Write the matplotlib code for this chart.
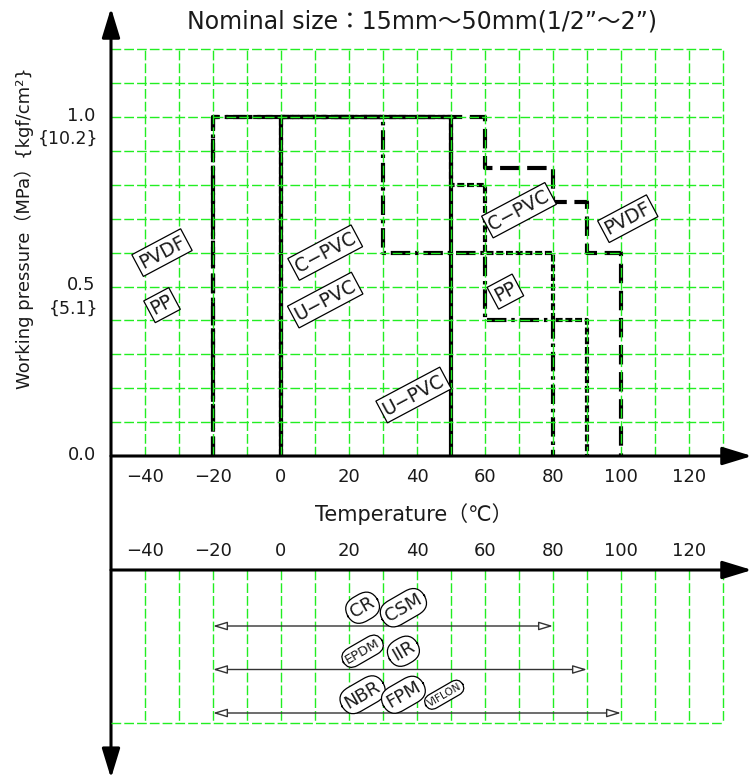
import matplotlib

matplotlib.use("Agg")

import matplotlib.pyplot as plt
from matplotlib.patches import ArrowStyle

plt.rcParams["font.family"] = ["DejaVu Sans", "Noto Sans CJK JP"]
plt.rcParams["lines.scale_dashes"] = False

# allowable working pressure (MPa) vs temperature (degC), step outlines
pvdf_temp = [-20, -20, 60, 60, 80, 80, 90, 90, 100, 100]
pvdf_pres = [0.0, 1.0, 1.0, 0.85, 0.85, 0.75, 0.75, 0.6, 0.6, 0.0]
pp_temp = [-20, -20, 30, 30, 60, 60, 80, 80]
pp_pres = [0.0, 1.0, 1.0, 0.6, 0.6, 0.4, 0.4, 0.0]
cpvc_temp = [0, 0, 50, 50, 60, 60, 80, 80, 90, 90]
cpvc_pres = [0.0, 1.0, 1.0, 0.8, 0.8, 0.6, 0.6, 0.4, 0.4, 0.0]
upvc_temp = [0, 0, 50, 50]
upvc_pres = [0.0, 1.0, 1.0, 0.0]

# boxed material tags on the pressure chart
tag_text = ["PVDF", "PP", "C\u2212PVC", "U\u2212PVC", "U\u2212PVC", "C\u2212PVC", "PP", "PVDF"]
tag_temp = [-35, -35, 13, 13, 39, 70, 66, 102]
tag_pres = [0.60, 0.445, 0.60, 0.46, 0.18, 0.725, 0.485, 0.70]

# seal materials and their temperature range
seal_rows = [1, 2, 3]
seal_low = [-20, -20, -20]
seal_high = [80, 90, 100]
seal_names = [["CR", "CSM"], ["EPDM", "IIR"], ["NBR", "FPM", "VIFLON"]]
seal_name_temp = [[24, 36], [24, 36], [24, 36, 48]]
seal_name_size = [[13, 13], [9.5, 13], [13, 13, 7.5]]

temp_ticks = [-40, -20, 0, 20, 40, 60, 80, 100, 120]
pres_ticks = [0.0, 0.5, 1.0]
kgf_labels = ["", "{5.1}", "{10.2}"]

GREEN = "#22ee22"
INK = "#1a1a1a"

W, H = 752, 776
fig = plt.figure(figsize=(W / 100, H / 100), dpi=100)

# layout in pixels
x_left, x_right = 111, 752
deg_px = 3.4
t_min = -50
t_max = t_min + (x_right - x_left) / deg_px
y_zero, y_top = 456, 8
mpa_px = 339
p_max = (y_zero - y_top) / mpa_px

ax = fig.add_axes([x_left / W, 1 - y_zero / H, (x_right - x_left) / W, (y_zero - y_top) / H])
ax.set_xlim(t_min, t_max)
ax.set_ylim(0, p_max)

y_axis2 = 570
row1_px, row_px = 626, 43.5
r_top = 1 - (row1_px - y_axis2) / row_px
r_bot = 1 + (H - row1_px) / row_px
ax2 = fig.add_axes([x_left / W, 0, (x_right - x_left) / W, (H - y_axis2) / H])
ax2.set_xlim(t_min, t_max)
ax2.set_ylim(r_bot, r_top)

for a in (ax, ax2):
    for s in a.spines.values():
        s.set_visible(False)
    a.set_yticks([])
    a.patch.set_alpha(0)

# green dashed grid
grid_t = list(range(-40, 131, 10))
grid_p = [i / 10 for i in range(1, 13)]
gkw = dict(colors=GREEN, linestyles=(0, (7, 2.2)), lw=1.0)
ax.vlines(grid_t, 0, 1.2, zorder=2.5, **gkw)
ax.hlines(grid_p, t_min, 130, zorder=2.5, **gkw)
grid_bottom = 3.23
ax2.vlines(grid_t, r_top, grid_bottom, zorder=1, **gkw)
ax2.hlines(grid_bottom, t_min, 130, zorder=1, **gkw)

# pressure curves
lw = 3.0
ax.plot(pvdf_temp, pvdf_pres, color="black", lw=lw, ls=(0, (14, 5.5)), zorder=2)
ax.plot(pp_temp, pp_pres, color="black", lw=lw, ls=(0, (14, 3.5, 2.5, 3.5)), zorder=2)
ax.plot(cpvc_temp, cpvc_pres, color="black", lw=lw, ls=(0, (5, 2)), zorder=2)
ax.plot(upvc_temp, upvc_pres, color="black", lw=lw, ls="-", zorder=2)

for txt, t, p in zip(tag_text, tag_temp, tag_pres):
    ax.text(t, p, txt, fontsize=13.5, color=INK, rotation=28, rotation_mode="anchor",
            ha="center", va="center", zorder=4,
            bbox=dict(boxstyle="square,pad=0.15", fc="white", ec="black", lw=0.9))

# axes with arrow heads
axis_arrow = dict(arrowstyle=ArrowStyle("-|>", head_length=18, head_width=5.5),
                  mutation_scale=1, color="black", lw=2.2, shrinkA=0, shrinkB=0)
ax.annotate("", xy=(t_max, 0), xytext=(t_min, 0), arrowprops=axis_arrow,
            annotation_clip=False, zorder=5)
ax2.annotate("", xy=(t_max, r_top), xytext=(t_min, r_top), arrowprops=axis_arrow,
             annotation_clip=False, zorder=5)
both_arrow = dict(axis_arrow, arrowstyle=ArrowStyle("<|-|>", head_length=18, head_width=5.5))
ax.annotate("", xy=(t_min, p_max), xytext=(t_min, r_bot + 0.05), textcoords=ax2.transData,
            arrowprops=both_arrow, annotation_clip=False, zorder=5)

# tick labels
tick_text = [str(v).replace("-", "\u2212") for v in temp_ticks]
ax.set_xticks(temp_ticks)
ax.set_xticklabels(tick_text)
ax.tick_params(axis="x", length=0, pad=9, labelsize=13, labelcolor=INK)
ax2.xaxis.tick_top()
ax2.set_xticks(temp_ticks)
ax2.set_xticklabels(tick_text)
ax2.tick_params(axis="x", length=0, pad=7, labelsize=13, labelcolor=INK)

for p, k in zip(pres_ticks, kgf_labels):
    ax.annotate(f"{p:.1f}", xy=(t_min, p), xytext=(-11, 1), textcoords="offset points",
                ha="right", va="center", fontsize=13, color=INK, annotation_clip=False)
    if k:
        ax.annotate(k, xy=(t_min, p), xytext=(-9, -16), textcoords="offset points",
                    ha="right", va="center", fontsize=12.5, color=INK, annotation_clip=False)

ax.annotate("Temperature（\u2103）", xy=(39, 0), xytext=(0, -42), textcoords="offset points",
            ha="center", va="center", fontsize=15, color=INK, annotation_clip=False)
fig.text(24 / W, 1 - 228 / H, "Working pressure（MPa）{kgf/cm\u00b2}", rotation=90,
         ha="center", va="center", fontsize=13, color=INK)
fig.text(422 / W, 1 - 22 / H, "Nominal size：15mm～50mm(1/2”～2”)",
         ha="center", va="center", fontsize=17, color=INK)

# seal material ranges
seal_arrow = dict(arrowstyle=ArrowStyle("<|-|>", head_length=8.6, head_width=2.6),
                  mutation_scale=1, fc="white", ec="#333333", lw=1.0, shrinkA=0, shrinkB=0)
for row, lo, hi, names, nts, sizes in zip(seal_rows, seal_low, seal_high, seal_names,
                                          seal_name_temp, seal_name_size):
    ax2.annotate("", xy=(hi, row), xytext=(lo, row), arrowprops=seal_arrow, zorder=3)
    for nm, t, fs in zip(names, nts, sizes):
        ax2.text(t, row - 0.42, nm, fontsize=fs, color=INK, rotation=30, rotation_mode="anchor",
                 ha="center", va="center", zorder=4,
                 bbox=dict(boxstyle="round,pad=0.25,rounding_size=0.8", fc="white",
                           ec="black", lw=0.9))

fig.savefig("out.png", dpi=100)
